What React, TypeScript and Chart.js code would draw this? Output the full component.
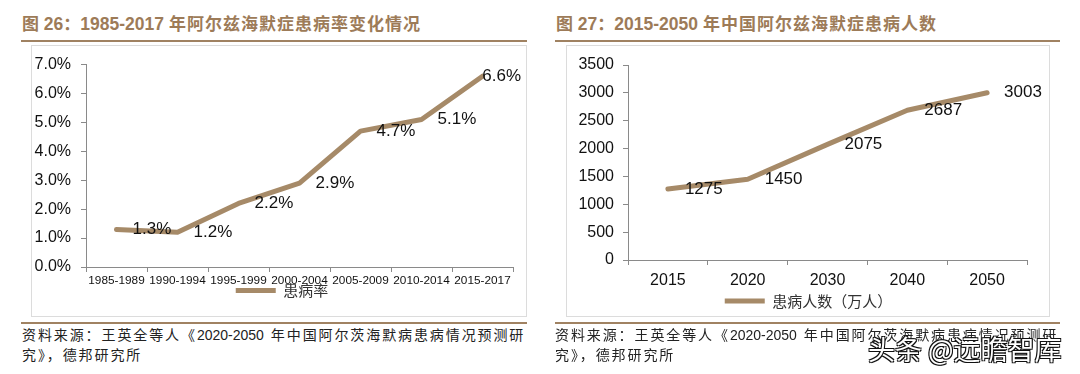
import React, { useEffect, useRef } from 'react';
import { Chart, registerables } from 'chart.js';

Chart.register(...registerables);

// ---------- data ----------
const leftCategories = ['1985-1989', '1990-1994', '1995-1999', '2000-2004', '2005-2009', '2010-2014', '2015-2017'];
const leftRates = [1.3, 1.2, 2.2, 2.9, 4.7, 5.1, 6.6];
const leftSeriesName = '患病率';
const leftYMax = 7;
const leftYStep = 1;

const rightYears = ['2015', '2020', '2030', '2040', '2050'];
const rightPatients = [1275, 1450, 2075, 2687, 3003];
const rightSeriesName = '患病人数（万人）';
const rightYMax = 3500;
const rightYStep = 500;

const leftTitle = ['图', ' 26', '：', '1985-2017 ', '年阿尔兹海默症患病率变化情况'];
const rightTitle = ['图', ' 27', '：', '2015-2050 ', '年中国阿尔兹海默症患病人数'];
const sourceA = '资料来源：王英全等人《';
const sourceYears = '2020-2050';
const sourceB = '年中国阿尔茨海默病患病情况预测研';
const sourceC = '究》，德邦研究所';
const watermark = '头条 @远瞻智库';

// ---------- style ----------
const LINE_COLOR = '#A68A68';
const AXIS_COLOR = '#8a8a8a';
const TITLE_COLOR = '#9D7B58';
const RULE_COLOR = '#A08262';
const LAT = '"Liberation Sans", Arial, sans-serif';
const CJK = '"Noto Sans CJK SC", "Noto Sans", sans-serif';

type Cfg = {
  labels: string[];
  values: number[];
  name: string;
  yMax: number;
  yStep: number;
  yFmt: (v: number) => string;
  labelFmt: (v: number) => string;
  width: number;
  height: number;
  pad: { top: number; right: number; left: number; bottom: number };
  yWidth: number;
  yPad: number;
  yFont: number;
  xHeight: number;
  xPad: number;
  xFont: number;
  legendPad: number;
  legendShift: number;
  legendDy: number;
  labelOffset: number;
  labelFont: number;
};

function LineChart({ cfg }: { cfg: Cfg }) {
  const ref = useRef<HTMLCanvasElement | null>(null);
  useEffect(() => {
    if (!ref.current) return;
    const labelPlugin = {
      id: 'pointLabels',
      afterLayout(chart: any) {
        const lg = chart.legend;
        if (lg) {
          lg.left += cfg.legendShift;
          lg.right += cfg.legendShift;
          lg.top += cfg.legendDy;
          lg.bottom += cfg.legendDy;
        }
      },
      afterDatasetsDraw(chart: any) {
        const ctx = chart.ctx;
        const meta = chart.getDatasetMeta(0);
        const data = chart.data.datasets[0].data as number[];
        ctx.save();
        ctx.font = `${cfg.labelFont}px ${LAT}`;
        ctx.fillStyle = '#111';
        ctx.textAlign = 'left';
        ctx.textBaseline = 'middle';
        meta.data.forEach((pt: any, i: number) => {
          const t = cfg.labelFmt(data[i]);
          const w = ctx.measureText(t).width;
          let x = pt.x + cfg.labelOffset;
          if (x + w > chart.width - 4) x = chart.width - 4 - w;
          ctx.fillText(t, x, pt.y);
        });
        ctx.restore();
      },
    };
    const chart = new Chart(ref.current, {
      type: 'line',
      data: {
        labels: cfg.labels,
        datasets: [
          {
            label: cfg.name,
            data: cfg.values,
            borderColor: LINE_COLOR,
            backgroundColor: LINE_COLOR,
            borderWidth: 5,
            borderJoinStyle: 'round',
            borderCapStyle: 'round',
            pointRadius: 0,
            pointHoverRadius: 0,
            tension: 0,
            fill: false,
          },
        ],
      },
      options: {
        responsive: false,
        animation: false,
        devicePixelRatio: 1,
        layout: { padding: cfg.pad },
        plugins: {
          legend: {
            position: 'bottom',
            labels: {
              boxWidth: 40,
              boxHeight: 5,
              padding: cfg.legendPad,
              color: '#333',
              font: { family: CJK, size: 15 },
              generateLabels: (c: any) =>
                (Chart.defaults.plugins.legend.labels as any)
                  .generateLabels(c)
                  .map((l: any) => ({ ...l, lineWidth: 0, fillStyle: LINE_COLOR })),
            },
          },
          tooltip: { enabled: false },
        },
        scales: {
          x: {
            offset: true,
            grid: { display: true, drawOnChartArea: false, offset: true, tickLength: 5, color: AXIS_COLOR },
            border: { display: true, color: AXIS_COLOR, width: 1 },
            ticks: { color: '#111', font: { family: LAT, size: cfg.xFont }, padding: cfg.xPad, maxRotation: 0, autoSkip: false },
            afterFit: (s: any) => {
              s.height = cfg.xHeight;
            },
          },
          y: {
            min: 0,
            max: cfg.yMax,
            grid: { display: true, drawOnChartArea: false, tickLength: 5, color: AXIS_COLOR },
            border: { display: true, color: AXIS_COLOR, width: 1 },
            ticks: {
              stepSize: cfg.yStep,
              color: '#111',
              font: { family: LAT, size: cfg.yFont },
              padding: cfg.yPad,
              callback: (v: any) => cfg.yFmt(Number(v)),
            },
            afterFit: (s: any) => {
              s.width = cfg.yWidth;
            },
          },
        },
      } as any,
      plugins: [labelPlugin],
    });
    return () => chart.destroy();
  }, [cfg]);
  return <canvas ref={ref} width={cfg.width} height={cfg.height} style={{ width: cfg.width, height: cfg.height, display: 'block' }} />;
}

const leftCfg: Cfg = {
  labels: leftCategories,
  values: leftRates,
  name: leftSeriesName,
  yMax: leftYMax,
  yStep: leftYStep,
  yFmt: (v) => v.toFixed(1) + '%',
  labelFmt: (v) => v.toFixed(1) + '%',
  width: 493,
  height: 271,
  pad: { top: 13, right: 12, left: 0, bottom: 1 },
  yWidth: 54,
  yPad: 10,
  yFont: 16,
  xHeight: 21,
  xPad: 1.5,
  xFont: 11.8,
  legendPad: 2,
  legendShift: 9.5,
  legendDy: -7,
  labelOffset: 16,
  labelFont: 17,
};

const rightCfg: Cfg = {
  labels: rightYears,
  values: rightPatients,
  name: rightSeriesName,
  yMax: rightYMax,
  yStep: rightYStep,
  yFmt: (v) => String(v),
  labelFmt: (v) => String(v),
  width: 481,
  height: 280,
  pad: { top: 20, right: 21, left: 0, bottom: 7 },
  yWidth: 61,
  yPad: 9,
  yFont: 16,
  xHeight: 31,
  xPad: 6,
  xFont: 16,
  legendPad: 2,
  legendShift: 11.5,
  legendDy: 0.5,
  labelOffset: 17,
  labelFont: 17,
};

function Title({ parts, left }: { parts: string[]; left: number }) {
  return (
    <div
      style={{
        position: 'absolute',
        left,
        top: 10.5,
        height: 24,
        lineHeight: '24px',
        whiteSpace: 'nowrap',
        color: TITLE_COLOR,
        fontWeight: 700,
      }}
    >
      <span style={{ fontFamily: CJK, fontSize: 17 }}>{parts[0]}</span>
      <span style={{ fontFamily: LAT, fontSize: 17.5 }}>{parts[1]}</span>
      <span style={{ fontFamily: CJK, fontSize: 17 }}>{parts[2]}</span>
      <span style={{ fontFamily: LAT, fontSize: 17.5 }}>{parts[3]}</span>
      <span style={{ fontFamily: CJK, fontSize: 17, letterSpacing: 1 }}>{parts[4]}</span>
    </div>
  );
}

function Source({ left }: { left: number }) {
  return (
    <div
      style={{
        position: 'absolute',
        left,
        top: 324.5,
        fontSize: 14,
        lineHeight: '19px',
        color: '#222',
        fontFamily: CJK,
        letterSpacing: 1.9,
        whiteSpace: 'nowrap',
      }}
    >
      {sourceA}
      <span style={{ fontFamily: LAT, letterSpacing: 0, margin: '0 7px 0 0' }}>{sourceYears}</span>
      {sourceB}
      <br />
      {sourceC}
    </div>
  );
}

function Rule({ left, top, width }: { left: number; top: number; width: number }) {
  return <div style={{ position: 'absolute', left, top, width, height: 2, background: RULE_COLOR }} />;
}

export default function App() {
  return (
    <div
      style={{
        position: 'absolute',
        left: 0,
        top: 0,
        width: 1080,
        height: 374,
        background: '#fff',
        overflow: 'hidden',
      }}
    >
      <Title parts={leftTitle} left={22} />
      <Title parts={rightTitle} left={556} />
      <Rule left={21} top={39.5} width={506} />
      <Rule left={555} top={39.5} width={505} />

      <div style={{ position: 'absolute', left: 31, top: 45, width: 494, height: 270, border: '1px solid #dcdcdc' }} />
      <div style={{ position: 'absolute', left: 566, top: 45, width: 482, height: 270, border: '1px solid #dcdcdc' }} />

      <div style={{ position: 'absolute', left: 32, top: 45 }}>
        <LineChart cfg={leftCfg} />
      </div>
      <div style={{ position: 'absolute', left: 567, top: 45 }}>
        <LineChart cfg={rightCfg} />
      </div>

      <Rule left={21} top={321.5} width={506} />
      <Rule left={555} top={321.5} width={505} />
      <Source left={22} />
      <Source left={555} />

      <div
        style={{
          position: 'absolute',
          left: 868,
          top: 332,
          fontFamily: CJK,
          fontSize: 27,
          lineHeight: '34px',
          color: '#fff',
          whiteSpace: 'nowrap',
          textShadow: '1px 1px 0 #111, -1px -1px 0 #111, 1px -1px 0 #111, -1px 1px 0 #111',
        }}
      >
        {watermark}
      </div>
    </div>
  );
}
